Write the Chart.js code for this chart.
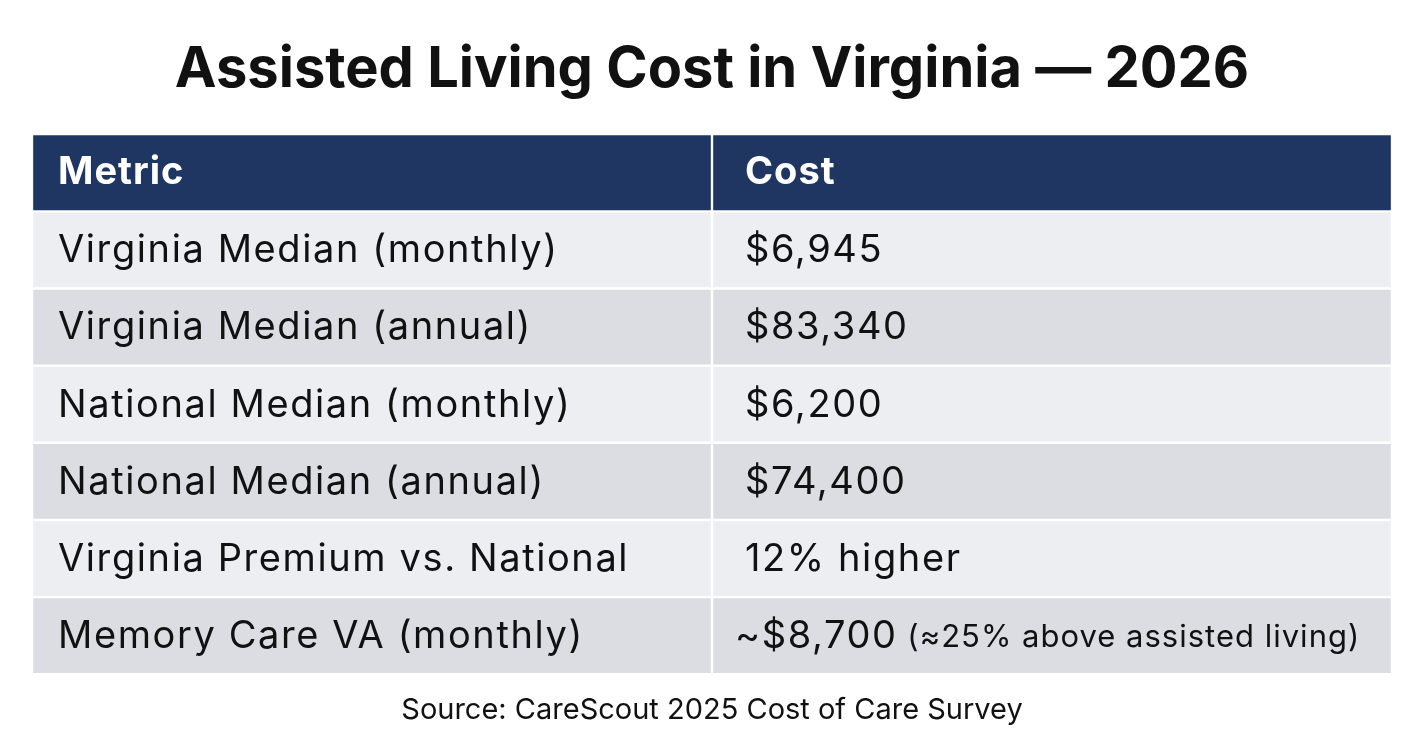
<!DOCTYPE html>
<html>
<head>
<meta charset="utf-8">
<script src="https://cdn.jsdelivr.net/npm/chart.js@4"></script>
<style>
  html, body { margin: 0; padding: 0; background: #ffffff; }
  #wrap { width: 1424px; height: 752px; }
</style>
</head>
<body>
<div id="wrap"><canvas id="myChart" width="1424" height="752"></canvas></div>
<script>
// table data
var headers = ['Metric', 'Cost'];
var metrics = [
  'Virginia Median (monthly)',
  'Virginia Median (annual)',
  'National Median (monthly)',
  'National Median (annual)',
  'Virginia Premium vs. National',
  'Memory Care VA (monthly)'
];
var costs = ['$6,945', '$83,340', '$6,200', '$74,400', '12% higher', '~$8,700'];
var notes = ['', '', '', '', '', ' (\u224825% above assisted living)'];

// colours
var headColor = '#1f3562';
var rowColors = ['#edeef1', '#dcdde2'];
var fontName = 'Inter, "Open Sans", sans-serif';

// one category per table row, header first
var rowLabels = [headers[0]].concat(metrics);
var fills = rowLabels.map(function (l, i) {
  return i === 0 ? headColor : rowColors[(i - 1) % 2];
});

// two floating bars per row = the two columns
var col1 = rowLabels.map(function () { return [0, 1]; });
var col2 = rowLabels.map(function () { return [1, 2]; });

// plugin for cell text
var cellText = {
  id: 'cellText',
  afterDatasetsDraw: function (chart) {
    var ctx = chart.ctx;
    var xs = chart.scales.x;
    var ys = chart.scales.y;
    var x0 = xs.getPixelForValue(0) + 26;
    var x1 = xs.getPixelForValue(1) + 33;
    ctx.save();
    ctx.textBaseline = 'middle';
    ctx.textAlign = 'left';
    rowLabels.forEach(function (label, i) {
      var y = ys.getPixelForValue(i);
      if (i === 0) {
        ctx.fillStyle = '#ffffff';
        ctx.letterSpacing = '1px';
        ctx.font = 'bold 38px ' + fontName;
        ctx.fillText(headers[0], x0, y);
        ctx.fillText(headers[1], x1, y);
        return;
      }
      ctx.fillStyle = '#111111';
      ctx.letterSpacing = '1.6px';
      ctx.font = '38px ' + fontName;
      ctx.fillText(label, x0, y + 1);
      var cx = notes[i - 1] ? x1 - 10 : x1;
      ctx.fillText(costs[i - 1], cx, y + 1);
      if (notes[i - 1]) {
        var w = ctx.measureText(costs[i - 1]).width;
        ctx.letterSpacing = '1px';
        ctx.font = '31px ' + fontName;
        ctx.fillText(notes[i - 1], cx + w, y + 2);
      }
    });
    ctx.restore();
  }
};

const ctx = document.getElementById('myChart').getContext('2d');
var myChart = new Chart(ctx, {
  type: 'bar',
  data: {
    labels: rowLabels,
    datasets: [
      { label: headers[0], data: col1, backgroundColor: fills },
      { label: headers[1], data: col2, backgroundColor: fills }
    ]
  },
  options: {
    indexAxis: 'y',
    responsive: false,
    animation: false,
    events: [],
    layout: { padding: { left: 32, right: 32, top: 0, bottom: 0 } },
    datasets: {
      bar: {
        grouped: false,
        barPercentage: 1,
        categoryPercentage: 1,
        borderColor: '#ffffff',
        borderWidth: 1.5,
        borderSkipped: false
      }
    },
    scales: {
      x: { display: false, min: 0, max: 2 },
      y: { display: false }
    },
    plugins: {
      legend: { display: false },
      tooltip: { enabled: false },
      title: {
        display: true,
        text: 'Assisted Living Cost in Virginia \u2014 2026',
        color: '#111111',
        font: { family: fontName, size: 56, weight: 'bold', lineHeight: 1.2 },
        padding: { top: 37, bottom: 30 }
      },
      subtitle: {
        display: true,
        position: 'bottom',
        text: 'Source: CareScout 2025 Cost of Care Survey',
        color: '#111111',
        font: { family: fontName, size: 29, lineHeight: 1.2 },
        padding: { top: 19, bottom: 24 }
      }
    }
  },
  plugins: [cellText]
});
</script>
</body>
</html>
